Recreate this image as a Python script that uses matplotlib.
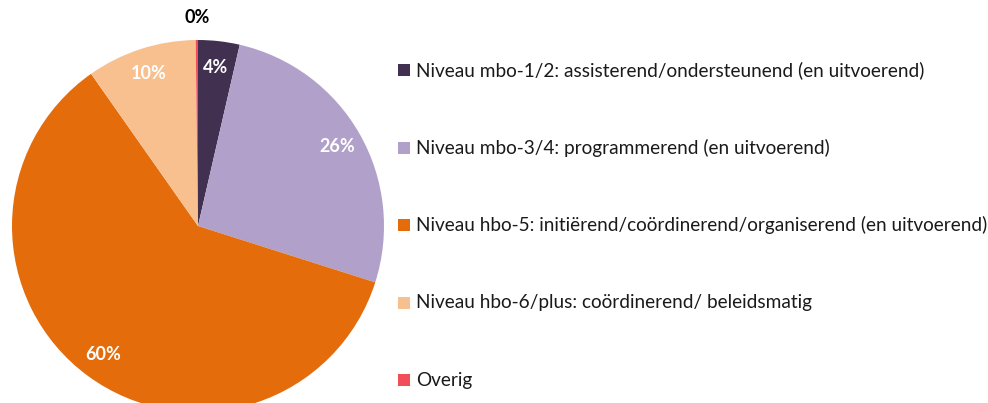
import matplotlib
matplotlib.use('Agg')
import matplotlib.pyplot as plt
from matplotlib.patches import Rectangle

plt.rcParams['font.family'] = ['Lato', 'DejaVu Sans']

categories = [
    'Niveau mbo-1/2: assisterend/ondersteunend (en uitvoerend)',
    'Niveau mbo-3/4: programmerend (en uitvoerend)',
    'Niveau hbo-5: initiërend/coördinerend/organiserend (en uitvoerend)',
    'Niveau hbo-6/plus: coördinerend/ beleidsmatig',
    'Overig',
]
shares = [3.6, 26.3, 60.35, 9.55, 0.2]
colors = ['#41304F', '#B1A1CA', '#E46C0A', '#F9C08F', '#F24E5A']

W, H = 988, 403
fig = plt.figure(figsize=(W / 100, H / 100), dpi=100)

# pie: centre (198, 226) px, radius 186 px, bottom runs off the figure
cx, cy, r = 198, 226, 186
ax = fig.add_axes([(cx - r) / W, (H - cy - r) / H, 2 * r / W, 2 * r / H])
wedges, texts, autotexts = ax.pie(shares, colors=colors, startangle=90, counterclock=False,
                                  autopct='%.0f%%', pctdistance=0.86, radius=1,
                                  wedgeprops=dict(linewidth=0),
                                  textprops=dict(color='white', fontsize=13, fontweight='bold'))
ax.set_xlim(-1.0, 1.0)
ax.set_ylim(-1.0, 1.0)
ax.set_aspect('equal')
ax.axis('off')

# small slice label sits outside the pie
x, y = autotexts[-1].get_position()
k = 1.12 / 0.86
autotexts[-1].set_position((x * k, y * k))
autotexts[-1].set_color('black')
for t in autotexts:
    t.set_clip_on(False)

# legend drawn by hand
for i, (lab, col) in enumerate(zip(categories, colors)):
    ypx = 70 + i * 77.6
    fig.add_artist(Rectangle((398 / W, (H - ypx - 6) / H), 12 / W, 12 / H,
                             transform=fig.transFigure, facecolor=col, edgecolor='none'))
    fig.text(416 / W, (H - ypx) / H, lab, fontsize=13.7, color='#1a1a1a', va='center', ha='left')

fig.savefig('out.png', dpi=100)
